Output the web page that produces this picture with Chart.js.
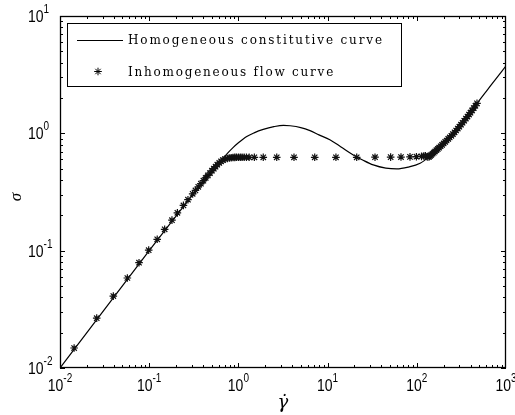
<!DOCTYPE html>
<html>
<head>
<meta charset="utf-8">
<script src="https://cdn.jsdelivr.net/npm/chart.js@4.4.1/dist/chart.umd.min.js"></script>
<style>
  html, body { margin: 0; padding: 0; background: #fff; }
  #wrap { width: 515px; height: 415px; }
</style>
</head>
<body>
<div id="wrap"><canvas id="chart" width="515" height="415"></canvas></div>
<script>
// homogeneous constitutive curve
const curveX = [0.01, 0.1, 0.2, 0.3, 0.4, 0.5, 0.6, 0.74, 0.87, 1.0, 1.24, 1.5, 1.9, 2.5, 3.2, 3.8, 5.0, 6.35, 8.0, 10.6, 14, 19.4, 25, 32.5, 45, 59.5, 80, 109, 137, 160, 200, 240, 280, 340, 400, 473, 700, 1000];
const curveY = [0.01, 0.1, 0.197, 0.292, 0.38, 0.465, 0.55, 0.665, 0.755, 0.83, 0.94, 1.01, 1.08, 1.14, 1.17, 1.16, 1.12, 1.055, 0.97, 0.88, 0.77, 0.655, 0.59, 0.538, 0.505, 0.497, 0.515, 0.556, 0.63, 0.70, 0.82, 0.94, 1.07, 1.28, 1.50, 1.80, 2.65, 3.76];

// inhomogeneous flow curve (star markers)
const flowX = [0.0144, 0.0258, 0.0396, 0.0569, 0.0769, 0.0987, 0.123, 0.149, 0.180, 0.207, 0.242, 0.272, 0.307, 0.33, 0.355, 0.38, 0.405, 0.43, 0.455, 0.48, 0.505, 0.53, 0.555, 0.58, 0.61, 0.64, 0.67, 0.71, 0.75, 0.79, 0.83, 0.87, 0.91, 0.95, 1.0, 1.05, 1.1, 1.16, 1.23, 1.32, 1.51, 1.90, 2.69, 4.20, 7.17, 12.4, 21.2, 34.0, 50.9, 66.5, 83.9, 99, 113, 120, 125, 131,
  137, 141, 145, 150, 155, 160, 166, 172, 178, 185, 192, 200, 208, 216, 225, 234, 244, 254, 265, 276, 288, 300, 313, 326, 340, 355, 370, 385, 400, 417, 435, 454, 473];
const flowY = [0.0148, 0.0266, 0.041, 0.0585, 0.079, 0.101, 0.125, 0.152, 0.182, 0.21, 0.243, 0.272, 0.305, 0.326, 0.35, 0.372, 0.395, 0.417, 0.438, 0.459, 0.48, 0.50, 0.52, 0.54, 0.56, 0.578, 0.592, 0.603, 0.611, 0.617, 0.62, 0.622, 0.624, 0.625, 0.625, 0.625, 0.625, 0.625, 0.625, 0.625, 0.625, 0.625, 0.625, 0.625, 0.625, 0.625, 0.625, 0.626, 0.627, 0.628, 0.63, 0.632, 0.636, 0.64, 0.645, 0.63,
  0.63, 0.642, 0.655, 0.67, 0.685, 0.70, 0.719, 0.737, 0.755, 0.776, 0.797, 0.82, 0.845, 0.869, 0.896, 0.922, 0.953, 0.986, 1.021, 1.057, 1.098, 1.14, 1.186, 1.231, 1.28, 1.335, 1.391, 1.446, 1.50, 1.568, 1.641, 1.718, 1.80];

const xTicks = [0.01, 0.1, 1, 10, 100, 1000];
const yTicks = [0.01, 0.1, 1, 10];
const legendLabels = ['Homogeneous constitutive curve', 'Inhomogeneous flow curve'];

const curveData = curveX.map((v, i) => ({ x: v, y: curveY[i] }));
const flowData = flowX.map((v, i) => ({ x: v, y: flowY[i] }));

// stretched sans text, like the matlab export
function drawStretched(ctx, text, x, y, align) {
    ctx.save();
    ctx.translate(x, y);
    ctx.scale(1, 1.2);
    ctx.textAlign = align || 'left';
    ctx.fillText(text, 0, 0);
    ctx.restore();
}

function drawPow(ctx, v, x, y, mode) {
    const exp = String(Math.round(Math.log10(v)));
    ctx.font = '14px "Liberation Sans", Arial, sans-serif';
    const wb = ctx.measureText('10').width;
    ctx.font = '10px "Liberation Sans", Arial, sans-serif';
    const we = ctx.measureText(exp).width;
    let x0 = mode === 'center' ? x - (wb + we) / 2 : x;
    ctx.font = '14px "Liberation Sans", Arial, sans-serif';
    drawStretched(ctx, '10', x0, y);
    ctx.font = '10px "Liberation Sans", Arial, sans-serif';
    drawStretched(ctx, exp, x0 + wb, y - 9);
}

function spacedText(ctx, text, x, y, width) {
    const w0 = ctx.measureText(text).width;
    const s = (width - w0) / (text.length - 1);
    for (const ch of text) {
        ctx.fillText(ch, x, y);
        x += ctx.measureText(ch).width + s;
    }
}

const axesPlugin = {
    id: 'matlabAxes',
    afterDraw(chart) {
        const { ctx, chartArea: a, scales: { x, y } } = chart;
        ctx.save();
        ctx.strokeStyle = '#000';
        ctx.fillStyle = '#000';
        ctx.lineWidth = 1;

        // ticks, inside on all four sides
        ctx.beginPath();
        for (let d = -2; d < 3; d++) {
            for (let k = 1; k <= 9; k++) {
                const px = Math.round(x.getPixelForValue(k * Math.pow(10, d))) + 0.5;
                const len = k === 1 ? 5 : 3;
                ctx.moveTo(px, a.bottom); ctx.lineTo(px, a.bottom - len);
                ctx.moveTo(px, a.top); ctx.lineTo(px, a.top + len);
            }
        }
        for (let d = -2; d < 1; d++) {
            for (let k = 1; k <= 9; k++) {
                const py = Math.round(y.getPixelForValue(k * Math.pow(10, d))) + 0.5;
                const len = k === 1 ? 5 : 3;
                ctx.moveTo(a.left, py); ctx.lineTo(a.left + len, py);
                ctx.moveTo(a.right, py); ctx.lineTo(a.right - len, py);
            }
        }
        ctx.stroke();

        // frame
        ctx.lineWidth = 1.3;
        ctx.strokeRect(Math.round(a.left) + 0.5, Math.round(a.top) + 0.5,
            Math.round(a.right - a.left) - 1, Math.round(a.bottom - a.top) - 1);
        ctx.lineWidth = 1;

        // tick labels
        xTicks.forEach(v => drawPow(ctx, v, x.getPixelForValue(v), 391, 'center'));
        yTicks.forEach(v => drawPow(ctx, v, 28, y.getPixelForValue(v) + 6, 'left'));

        // axis titles
        ctx.textAlign = 'center';
        ctx.font = 'italic 18px "DejaVu Serif", "Liberation Serif", serif';
        ctx.fillText('\u03B3\u0307', 283, 408);
        ctx.save();
        ctx.translate(21, 197);
        ctx.rotate(-Math.PI / 2);
        ctx.font = 'italic 17px "Liberation Serif", serif';
        ctx.fillText('\u03C3', 0, 0);
        ctx.restore();

        // legend box
        ctx.fillStyle = '#fff';
        ctx.fillRect(67.5, 23.5, 334, 63);
        ctx.strokeRect(67.5, 23.5, 334, 63);
        ctx.beginPath();
        ctx.moveTo(77, 40.5); ctx.lineTo(123, 40.5);
        ctx.stroke();
        ctx.fillStyle = 'rgba(0,0,0,0)';
        Chart.helpers.drawPoint(ctx, { pointStyle: 'star', radius: 3.8, borderWidth: 1.2, rotation: 0 }, 98, 71.5);
        ctx.fillStyle = '#000';
        ctx.textAlign = 'left';
        ctx.font = '12px "DejaVu Serif", "Liberation Serif", serif';
        spacedText(ctx, legendLabels[0], 128, 44, 254);
        spacedText(ctx, legendLabels[1], 128, 75.5, 205);
        ctx.restore();
    }
};

new Chart(document.getElementById('chart'), {
    type: 'scatter',
    data: {
        datasets: [
            {
                label: legendLabels[0],
                data: curveData,
                showLine: true,
                borderColor: '#000',
                borderWidth: 1.2,
                pointRadius: 0,
                cubicInterpolationMode: 'monotone',
                order: 2
            },
            {
                label: legendLabels[1],
                data: flowData,
                showLine: false,
                pointStyle: 'star',
                pointRadius: 3.8,
                borderColor: '#111',
                backgroundColor: 'rgba(0,0,0,0)',
                borderWidth: 1.2,
                order: 1
            }
        ]
    },
    options: {
        responsive: false,
        animation: false,
        devicePixelRatio: 1,
        layout: { padding: { left: 60, right: 9, top: 16, bottom: 47 } },
        plugins: { legend: { display: false }, tooltip: { enabled: false } },
        scales: {
            x: {
                type: 'logarithmic', min: 0.01, max: 1000,
                ticks: { display: false }, grid: { display: false }, border: { display: false },
                afterFit(s) { s.height = 0; }
            },
            y: {
                type: 'logarithmic', min: 0.01, max: 10,
                ticks: { display: false }, grid: { display: false }, border: { display: false },
                afterFit(s) { s.width = 0; }
            }
        }
    },
    plugins: [axesPlugin]
});
</script>
</body>
</html>
